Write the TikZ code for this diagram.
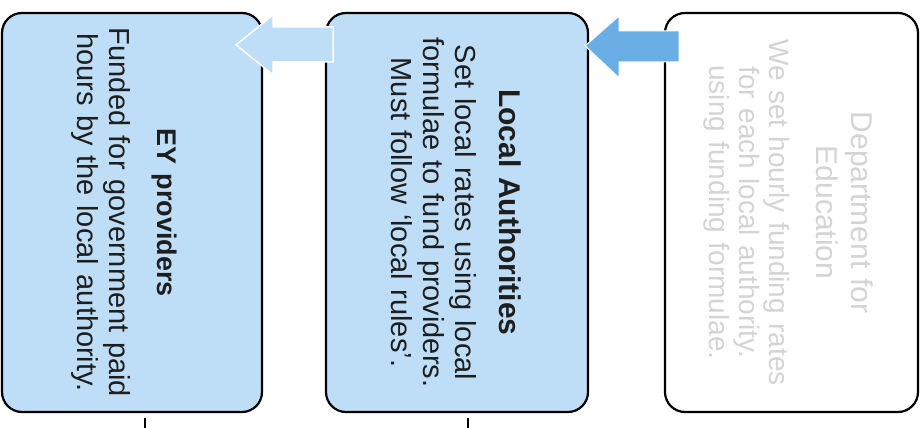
\documentclass[tikz,border=0pt]{standalone}
\usepackage{fontspec}
\setmainfont{Liberation Sans}
\usetikzlibrary{calc,positioning}
\definecolor{boxblue}{RGB}{190,222,247}
\definecolor{arrowblue}{RGB}{106,174,230}
\definecolor{fadegray}{RGB}{212,212,212}
\definecolor{inkgray}{RGB}{30,30,30}
\begin{document}
\begin{tikzpicture}[x=1pt,y=1pt,
  card/.style={draw=black, line width=2.2pt, rounded corners=20pt, minimum height=399pt, inner sep=0pt},
  cardtext/.style={rotate=-90, align=center, text width=390pt, inner sep=0pt, text=inkgray, font=\fontsize{29}{32}\selectfont},
  blockarrow/.style={draw=white, line width=1.5pt}]
\useasboundingbox (0,0) rectangle (921,428);
% the three boxes
\node[card, fill=boxblue, minimum width=260pt] (ey) at (132,215.5) {};
\node[card, fill=boxblue, minimum width=262pt] (la) at (457,215.5) {};
\node[card, fill=white, minimum width=253pt] (dfe) at (791.5,215.5) {};
% their texts
\node[cardtext] (eytxt) at ($(ey.center)+(-8,0)$) {{\fontsize{27}{32}\selectfont\bfseries EY providers}\\[16pt]
  Funded for government paid\\ hours by the local authority.};
\node[cardtext] (latxt) at ($(la.center)+(-1,0)$) {{\fontsize{30}{32}\selectfont\bfseries Local Authorities}\\[12pt]
  Set local rates using local\\ formulae to fund providers.\\ Must follow `local rules'.};
\node[cardtext, text=fadegray, font=\fontsize{28}{30}\selectfont] (dfetxt) at ($(dfe.center)+(-3,0)$) {{\fontsize{30}{30}\selectfont Department for\\[5pt] Education}\\[17pt]
  We set hourly funding rates\\ for each local authority.\\ using funding formulae.};
% arrows between the boxes
\coordinate (tip1) at ($(ey.north east)+(-27,-33)$);
\coordinate (tip2) at ($(la.north east)+(-4,-34)$);
\draw[blockarrow, fill=boxblue] (tip1) -- ++(37,30) -- ++(0,-12) -- ++(60,0) -- ++(0,-35)
  -- ++(-60,0) -- ++(0,-13) -- cycle;
\draw[blockarrow, fill=arrowblue, line width=1pt] (tip2) -- ++(34,30) -- ++(0,-15) -- ++(60,0) -- ++(0,-31)
  -- ++(-60,0) -- ++(0,-16) -- cycle;
% ticks below
\draw[line width=1.6pt] ($(ey.south)+(13,-5)$) -- ++(0,-12);
\draw[line width=1.6pt] ($(la.south)+(11,-5)$) -- ++(0,-12);
\end{tikzpicture}
\end{document}
